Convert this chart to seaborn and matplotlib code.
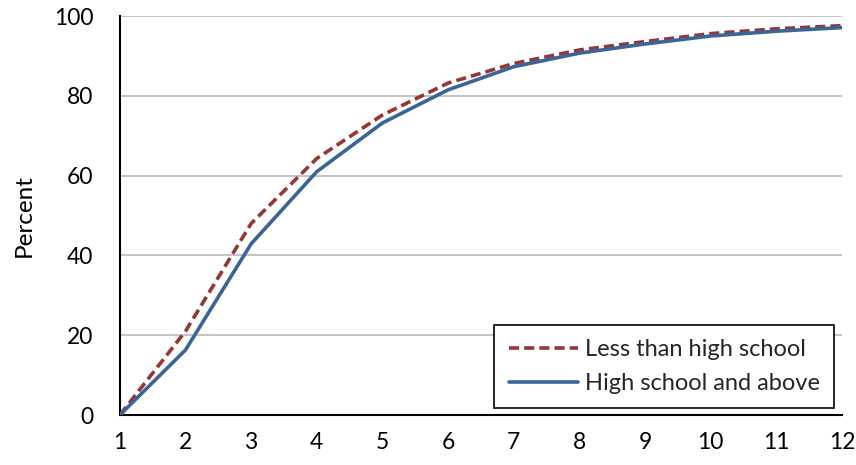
import matplotlib
matplotlib.use("Agg")
import matplotlib.pyplot as plt
import seaborn as sns
import pandas as pd

# Cumulative percentage by year, by education level
years = [1, 2, 3, 4, 5, 6, 7, 8, 9, 10, 11, 12]
less_than_hs = [0, 21, 48, 64.3, 75.2, 83.2, 88.1, 91.5, 93.6, 95.6, 96.8, 97.6]
hs_and_above = [0, 16.3, 42.9, 61.0, 73.2, 81.5, 87.3, 90.7, 93.0, 95.0, 96.2, 97.1]
series_names = ["Less than high school", "High school and above"]
y_ticks = [0, 20, 40, 60, 80, 100]

sns.set_theme(style="white")
plt.rcParams["font.family"] = ["Lato", "DejaVu Sans"]

df = pd.DataFrame({
    "Year": years * 2,
    "Percent": less_than_hs + hs_and_above,
    "Group": [series_names[0]] * len(years) + [series_names[1]] * len(years),
})

fig = plt.figure(figsize=(8.56, 4.65), dpi=100)
ax = fig.add_axes([0.140, 0.1075, 0.8436, 0.858])

palette = {series_names[0]: "#953735", series_names[1]: "#3A6598"}
sns.lineplot(data=df, x="Year", y="Percent", hue="Group", style="Group",
             palette=palette, dashes={series_names[0]: (2.8, 1.4), series_names[1]: ""},
             linewidth=2.6, ax=ax, zorder=3)

ax.set_xlim(1, 12)
ax.set_ylim(0, 100)
ax.set_xticks(years)
ax.set_yticks(y_ticks)
ax.yaxis.grid(True, color="#BFBFBF", linewidth=1.3)
ax.xaxis.grid(False)
ax.set_axisbelow(True)

for side in ["top", "right"]:
    ax.spines[side].set_visible(False)
for side in ["left", "bottom"]:
    ax.spines[side].set_color("black")
    ax.spines[side].set_linewidth(1.5)

ax.tick_params(axis="x", direction="in", length=5, width=1, color="#404040",
               labelsize=16.5, pad=12, labelcolor="black")
ax.tick_params(axis="y", length=0, labelsize=16.5, pad=19, labelcolor="black")
ax.set_xlabel("")
ax.set_ylabel("Percent", fontsize=17.5, labelpad=14, color="black")

leg = ax.legend(loc="lower right", bbox_to_anchor=(1.006, -0.012), fontsize=17,
                frameon=True, fancybox=False, edgecolor="black", framealpha=1,
                handlelength=2.95, handletextpad=0.3, borderpad=0.6, labelspacing=0.55,
                title=None)
leg.get_frame().set_linewidth(1.2)
leg.set_zorder(5)

fig.savefig("out.png", dpi=100)
